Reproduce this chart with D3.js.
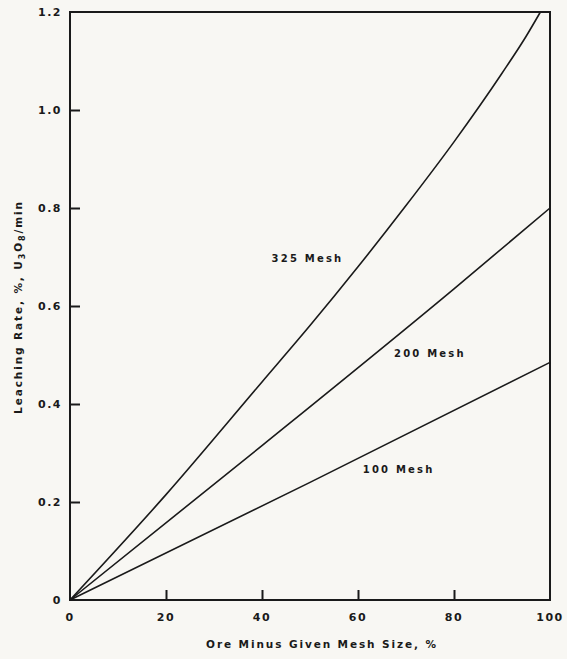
<!DOCTYPE html>
<html>
<head>
<meta charset="utf-8">
<script src="https://cdn.jsdelivr.net/npm/d3@7"></script>
<style>
  body { margin: 0; background: #f8f7f3; }
  svg { display: block; }
  text { font-family: "DejaVu Sans", sans-serif; font-weight: bold; fill: #1a1a1a; }
</style>
</head>
<body>
<svg id="drawing_region"></svg>
<script>
// values
const x_ticks = [ 0, 20, 40, 60, 80, 100 ];
const y_ticks = [ 0, 0.2, 0.4, 0.6, 0.8, 1.0, 1.2 ];
const y_tick_labels = [ "0", "0.2", "0.4", "0.6", "0.8", "1.0", "1.2" ];

const mesh_names = [ "325 Mesh", "200 Mesh", "100 Mesh" ];
const mesh_x = [
    [ 0, 20, 40, 50, 60, 70, 80, 90, 95, 98 ],
    [ 0, 40, 80, 100 ],
    [ 0, 50, 100 ]
];
const mesh_y = [
    [ 0, 0.215, 0.445, 0.56, 0.68, 0.805, 0.935, 1.075, 1.15, 1.2 ],
    [ 0, 0.315, 0.635, 0.8 ],
    [ 0, 0.24, 0.485 ]
];
// label anchor in data units
const label_x = [ 42, 67.5, 61 ];
const label_y = [ 0.69, 0.495, 0.26 ];

var config = {
    parent: '#drawing_region',
    width: 567,
    height: 659,
    margin: { top:12, right:17, bottom:59, left:70 }
};

const svg = d3.select( config.parent )
    .attr( 'width', config.width )
    .attr( 'height', config.height );

const inner_width = config.width - config.margin.left - config.margin.right;
const inner_height = config.height - config.margin.top - config.margin.bottom;

const chart = svg.append( 'g' )
    .attr( 'transform', `translate(${config.margin.left}, ${config.margin.top})` );

const xscale = d3.scaleLinear().domain( [ 0, 100 ] ).range( [ 0, inner_width ] );
const yscale = d3.scaleLinear().domain( [ 0, 1.2 ] ).range( [ inner_height, 0 ] );

// frame
chart.append( 'rect' )
    .attr( 'x', 0 ).attr( 'y', 0 )
    .attr( 'width', inner_width ).attr( 'height', inner_height )
    .attr( 'fill', 'none' )
    .attr( 'stroke', '#1a1a1a' )
    .attr( 'stroke-width', 2 );

// axes with inward ticks
const xaxis = d3.axisBottom( xscale )
    .tickValues( x_ticks.slice( 1, -1 ) )
    .tickSize( -10 )
    .tickSizeOuter( 0 )
    .tickFormat( '' );
const yaxis = d3.axisLeft( yscale )
    .tickValues( y_ticks.slice( 1, -1 ) )
    .tickSize( -10 )
    .tickSizeOuter( 0 )
    .tickFormat( '' );

chart.append( 'g' )
    .attr( 'transform', `translate(0, ${inner_height})` )
    .call( xaxis )
    .call( g => g.select( '.domain' ).remove() )
    .selectAll( 'line' ).attr( 'stroke', '#1a1a1a' ).attr( 'stroke-width', 2 );

chart.append( 'g' )
    .call( yaxis )
    .call( g => g.select( '.domain' ).remove() )
    .selectAll( 'line' ).attr( 'stroke', '#1a1a1a' ).attr( 'stroke-width', 2 );

// tick labels
chart.selectAll( '.xlab' )
    .data( x_ticks )
    .enter()
    .append( 'text' )
    .attr( 'x', d => xscale( d ) )
    .attr( 'y', inner_height + 21 )
    .attr( 'text-anchor', 'middle' )
    .attr( 'font-size', 11 )
    .attr( 'letter-spacing', 1.5 )
    .text( d => d );

chart.selectAll( '.ylab' )
    .data( y_ticks )
    .enter()
    .append( 'text' )
    .attr( 'x', -8 )
    .attr( 'y', d => yscale( d ) + 4 )
    .attr( 'text-anchor', 'end' )
    .attr( 'font-size', 11 )
    .attr( 'letter-spacing', 1.5 )
    .text( ( d, i ) => y_tick_labels[ i ] );

// curves
const line = d3.line()
    .x( d => xscale( d[0] ) )
    .y( d => yscale( d[1] ) )
    .curve( d3.curveMonotoneX );

mesh_names.forEach( ( name, i ) => {
    const pts = mesh_x[i].map( ( v, j ) => [ v, mesh_y[i][j] ] );
    chart.append( 'path' )
        .datum( pts )
        .attr( 'd', line )
        .attr( 'fill', 'none' )
        .attr( 'stroke', '#1a1a1a' )
        .attr( 'stroke-width', 1.6 );

    chart.append( 'text' )
        .attr( 'x', xscale( label_x[i] ) )
        .attr( 'y', yscale( label_y[i] ) )
        .attr( 'font-size', 10 )
        .attr( 'letter-spacing', 2.2 )
        .text( name );
} );

// axis titles
svg.append( 'text' )
    .attr( 'x', 322 )
    .attr( 'y', 648 )
    .attr( 'text-anchor', 'middle' )
    .attr( 'font-size', 10.5 )
    .attr( 'letter-spacing', 1.9 )
    .text( 'Ore Minus Given Mesh Size, %' );

const ytitle = svg.append( 'text' )
    .attr( 'transform', 'translate(22, 307) rotate(-90)' )
    .attr( 'text-anchor', 'middle' )
    .attr( 'font-size', 10.5 )
    .attr( 'letter-spacing', 1.9 );
ytitle.append( 'tspan' ).text( 'Leaching Rate, %, U' );
ytitle.append( 'tspan' ).attr( 'font-size', 8 ).attr( 'dy', 3 ).text( '3' );
ytitle.append( 'tspan' ).attr( 'dy', -3 ).text( 'O' );
ytitle.append( 'tspan' ).attr( 'font-size', 8 ).attr( 'dy', 3 ).text( '8' );
ytitle.append( 'tspan' ).attr( 'dy', -3 ).text( '/min' );
</script>
</body>
</html>
